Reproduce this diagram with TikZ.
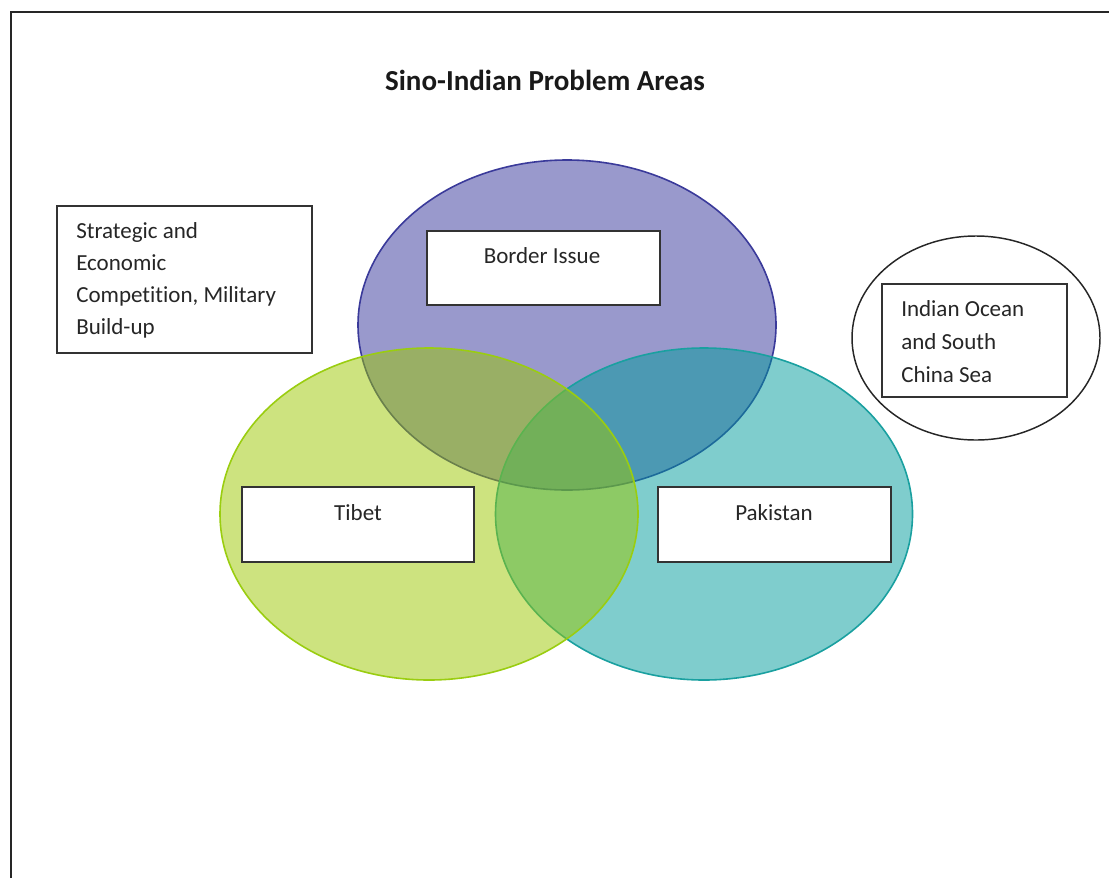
\documentclass[tikz,border=0pt]{standalone}
\usepackage{fontspec}
\setmainfont{Carlito}[Ligatures=CommonOff]
\usetikzlibrary{shapes.geometric}
\definecolor{vblue}{HTML}{333399}
\definecolor{vteal}{HTML}{009B9B}
\definecolor{vgreen}{HTML}{9BC700}
\definecolor{vblueline}{HTML}{3A3A9A}
\definecolor{vtealline}{HTML}{1AA0A0}
\definecolor{vgreenline}{HTML}{9ACD10}
\definecolor{boxline}{HTML}{333333}
\tikzset{
  venn/.style={ellipse, inner sep=0pt, outer sep=0pt, fill opacity=0.5, line width=1.2pt},
  labelbox/.style={rectangle, draw=boxline, fill=white, line width=1.5pt, inner sep=0pt},
  lbl/.style={font=\fontsize{17.25}{24}\selectfont, inner sep=0pt, text=black!85},
  mlbl/.style={lbl, align=left, anchor=north west},
}
\begin{document}
\begin{tikzpicture}[x=0.75pt, y=-0.75pt]
\useasboundingbox (0,0) rectangle (1109,878);
% frame (left and top edges)
\draw[line width=1.5pt, black!85] (11,878) -- (11,12) -- (1109,12);
% title
\node[font=\fontsize{21.75}{26}\bfseries, inner sep=0pt, text=black!90] (title) at (545,80) {Sino-Indian Problem Areas};
% venn ellipses
\node[venn, fill=vblue, draw=vblueline, minimum width=313.5pt, minimum height=247.5pt] (blue) at (567,325) {};
\node[venn, fill=vteal, draw=vtealline, minimum width=312.75pt, minimum height=249pt] (teal) at (704,514) {};
\node[venn, fill=vgreen, draw=vgreenline, minimum width=313.5pt, minimum height=249pt] (green) at (429,514) {};
% label boxes
\node[labelbox, minimum width=174.75pt, minimum height=55.5pt] (borderbox) at (543.5,268) {};
\node[lbl] (bordertxt) at (542,256) {Border Issue};
\node[labelbox, minimum width=174pt, minimum height=56.25pt] (tibetbox) at (358,524.5) {};
\node[lbl] (tibettxt) at (358,513) {Tibet};
\node[labelbox, minimum width=174.75pt, minimum height=56.25pt] (pakbox) at (774.5,524.5) {};
\node[lbl] (paktxt) at (774,513) {Pakistan};
% strategic box
\node[labelbox, minimum width=191.25pt, minimum height=110.25pt] (stratbox) at (184.5,279.5) {};
\node[mlbl] (strattxt) at (76,222) {Strategic and\\Economic\\Competition, Military\\Build-up};
% indian ocean
\node[ellipse, draw=black!85, line width=1.1pt, inner sep=0pt, minimum width=186pt, minimum height=153pt] (oceanring) at (976,338) {};
\node[labelbox, minimum width=138.75pt, minimum height=84.75pt] (oceanbox) at (974.5,340.5) {};
\node[mlbl, font=\fontsize{17.25}{24.75}\selectfont] (oceantxt) at (901,300) {Indian Ocean\\and South\\China Sea};
\end{tikzpicture}
\end{document}
